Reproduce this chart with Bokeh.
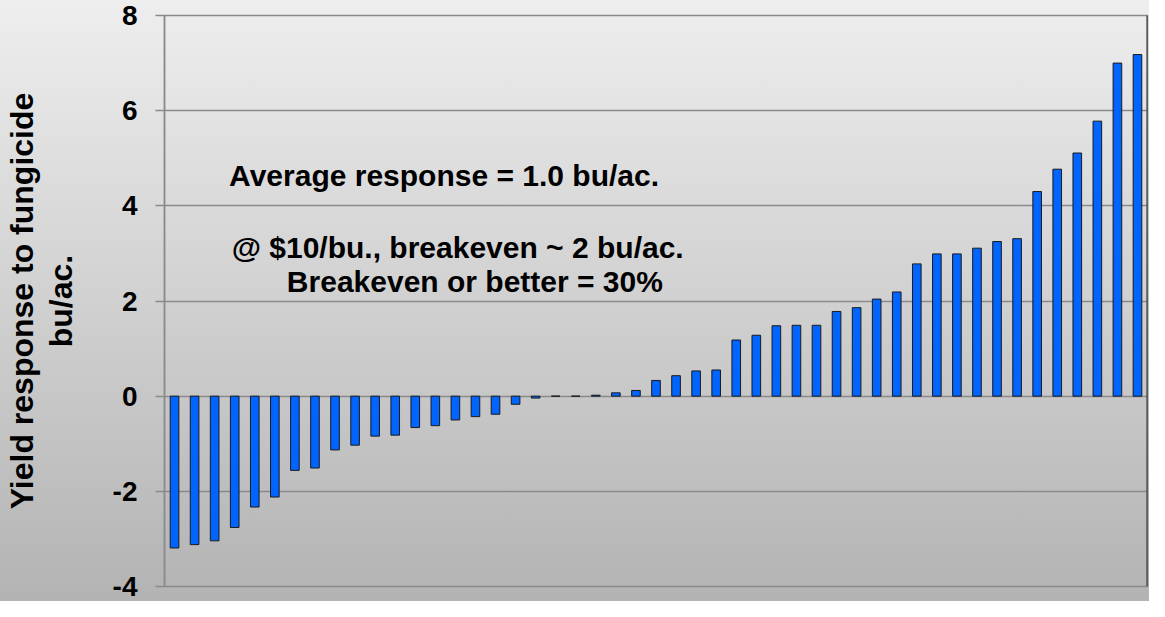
from bokeh.plotting import figure
from bokeh.models import Range1d, LinearAxis, FixedTicker, Label, Span
from bokeh.embed import file_html
from bokeh.resources import INLINE

# ---- data ----
trials = list(range(49))
yield_response = [-3.19, -3.12, -3.04, -2.76, -2.33, -2.12, -1.56, -1.51, -1.13, -1.03,
                  -0.84, -0.82, -0.66, -0.62, -0.50, -0.43, -0.38, -0.17, -0.04, 0.0,
                  0.0, 0.02, 0.07, 0.12, 0.33, 0.43, 0.53, 0.55, 1.18, 1.28,
                  1.48, 1.49, 1.49, 1.78, 1.86, 2.04, 2.19, 2.78, 2.99, 2.99,
                  3.11, 3.25, 3.31, 4.30, 4.77, 5.11, 5.78, 7.00, 7.18]
y_ticks = [-4, -2, 0, 2, 4, 6, 8]
y_tick_labels = ["-4", "-2", "0", "2", "4", "6", "8"]
y_title = "Yield response to fungicide"
y_units = "bu/ac."
notes = ["Average response = 1.0 bu/ac.",
         "@ $10/bu., breakeven ~ 2 bu/ac.",
         "Breakeven or better = 30%"]

p = figure(width=1149, height=601, output_backend="svg", toolbar_location=None,
           x_range=Range1d(-0.5, len(trials) - 0.5), y_range=Range1d(-4, 8),
           x_axis_location=None, min_border_left=159, min_border_right=2,
           min_border_top=15, min_border_bottom=15)

p.background_fill_alpha = 0
p.border_fill_alpha = 0
p.styles = {"background": "linear-gradient(to bottom, #eeeeee, #b3b3b3)"}
p.outline_line_color = "#8a8a8a"
p.outline_line_width = 1.5

p.xgrid.visible = False
p.ygrid.ticker = FixedTicker(ticks=y_ticks)
p.ygrid.grid_line_color = "#8a8a8a"
p.ygrid.grid_line_width = 1.5

ax = p.yaxis[0]
ax.ticker = FixedTicker(ticks=y_ticks)
ax.major_label_overrides = {t: s for t, s in zip(y_ticks, y_tick_labels)}
ax.axis_line_color = "#8a8a8a"
ax.axis_line_width = 1.5
ax.major_tick_line_color = "#8a8a8a"
ax.major_tick_line_width = 1.5
ax.major_tick_out = 9
ax.major_tick_in = 0
ax.minor_tick_line_color = None
ax.major_label_standoff = 18
ax.major_label_text_font = "Liberation Sans"
ax.major_label_text_font_style = "bold"
ax.major_label_text_font_size = "28px"
ax.major_label_text_color = "black"
ax.axis_label = y_units
ax.axis_label_text_font = "Liberation Sans"
ax.axis_label_text_font_style = "bold"
ax.axis_label_text_font_size = "32px"
ax.axis_label_text_color = "black"
ax.axis_label_standoff = 31

outer = LinearAxis(ticker=FixedTicker(ticks=[]), axis_line_color=None,
                   major_tick_line_color=None, minor_tick_line_color=None,
                   axis_label=y_title, axis_label_text_font="Liberation Sans",
                   axis_label_text_font_style="bold", axis_label_text_font_size="32px",
                   axis_label_text_color="black", axis_label_standoff=0)
p.add_layout(outer, "left")

# darker right edge of the plot frame
p.add_layout(Span(location=len(trials) - 0.5, dimension="height",
                  line_color="#333333", line_width=2))

p.vbar(x=trials, top=yield_response, bottom=0, width=0.43,
       fill_color="#0064FF", line_color="#1a1a1a", line_width=1)

note_pos = [(2.72, 4.64), (2.85, 3.12), (5.6, 2.42)]
for txt, (nx, ny) in zip(notes, note_pos):
    p.add_layout(Label(x=nx, y=ny, text=txt, text_font="Liberation Sans",
                       text_font_style="bold", text_font_size="30px",
                       text_color="black", text_baseline="alphabetic"))

open("out.html", "w").write(file_html(p, INLINE))
